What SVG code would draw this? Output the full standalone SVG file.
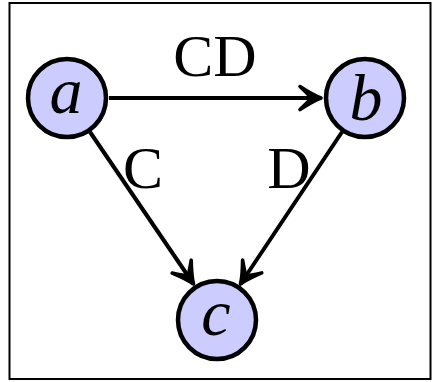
<svg xmlns="http://www.w3.org/2000/svg" width="433" height="382" viewBox="0 0 433 382">
<style>
.node circle{fill:#ccccff;stroke:#000;stroke-width:4.5}
.node text{font-family:"Liberation Serif","DejaVu Serif",serif;font-style:italic;font-size:66px;text-anchor:middle;fill:#000}
.edge{stroke:#000;stroke-width:4;fill:none}
.lbl{font-family:"Liberation Serif","DejaVu Serif",serif;font-size:60px;fill:#000;text-anchor:middle}
</style>
<defs>
<marker id="to" markerUnits="userSpaceOnUse" viewBox="-26 -16 30 32" markerWidth="30" markerHeight="32" refX="0" refY="0" orient="auto" overflow="visible">
<path d="M -21,-11.5 Q -8,-3 0,0 Q -8,3 -21,11.5 Q -11,2 -10,0 Q -11,-2 -21,-11.5 Z" fill="#000" stroke="#000" stroke-width="3.6" stroke-linecap="round" stroke-linejoin="round"/>
</marker>
</defs>
<rect x="9.5" y="3" width="421" height="376" fill="none" stroke="#000" stroke-width="2"/>
<g id="connectors">
<line class="edge" x1="109" y1="98" x2="321" y2="98" marker-end="url(#to)"/>
<line class="edge" x1="90" y1="132" x2="193.5" y2="284" marker-end="url(#to)"/>
<line class="edge" x1="342" y1="132" x2="240.5" y2="284" marker-end="url(#to)"/>
<text class="lbl" x="215" y="76">CD</text>
<text class="lbl" x="143" y="188">C</text>
<text class="lbl" x="289" y="188">D</text>
</g>
<g id="node-a" class="node"><circle cx="67" cy="98" r="39"/><text x="66" y="113">a</text></g>
<g id="node-b" class="node"><circle cx="365" cy="98" r="39"/><text x="366" y="120">b</text></g>
<g id="node-c" class="node"><circle cx="217" cy="320" r="39"/><text x="216" y="335">c</text></g>
</svg>
